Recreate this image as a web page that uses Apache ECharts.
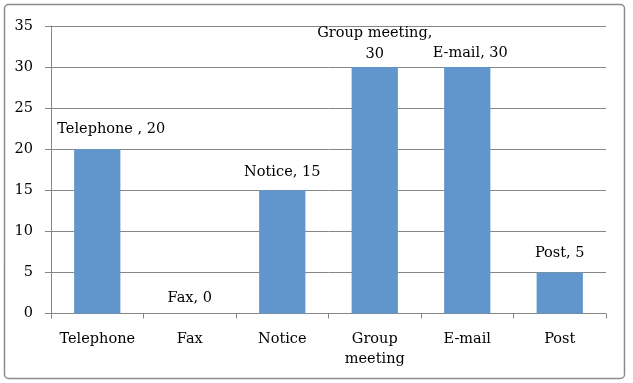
<!DOCTYPE html>
<html><head><meta charset="utf-8">
<script src="https://cdn.jsdelivr.net/npm/echarts@6/dist/echarts.min.js"></script>
<style>html,body{margin:0;padding:0;background:#fff}#c{width:633px;height:383px}</style>
</head><body><div id="c"></div>
<script>
var categories = ['Telephone', 'Fax', 'Notice', 'Group\nmeeting', 'E-mail', 'Post'];
var values = [20, 0, 15, 30, 30, 5];
var labelTexts = ['Telephone , 20', 'Fax, 0', 'Notice, 15', 'Group meeting,\n30', 'E-mail, 30', 'Post, 5'];
var yTicks = [0, 5, 10, 15, 20, 25, 30, 35];

var FONT = 'DejaVu Serif';
var labelOffsets = [[14, 0], [0, 4], [0, 1], [0, 7], [3, 6], [0, 0]];
var chart = echarts.init(document.getElementById('c'), null, {renderer: 'canvas'});
chart.setOption({
  animation: false,
  backgroundColor: '#fff',
  graphic: [{
    type: 'rect', shape: {x: 4.5, y: 4.5, width: 620, height: 374, r: 4},
    style: {fill: 'none', stroke: '#8c8c8c', lineWidth: 1.5}, silent: true
  }],
  grid: {left: 51, right: 27, top: 26, bottom: 69.5, containLabel: false},
  xAxis: {
    type: 'category', data: categories,
    axisLine: {lineStyle: {color: '#868686', width: 1}},
    axisTick: {show: true, interval: 0, length: 5, lineStyle: {color: '#868686'}},
    axisLabel: {interval: 0, fontFamily: FONT, fontSize: 14.5, color: '#000', margin: 16, lineHeight: 20}
  },
  yAxis: {
    type: 'value', min: yTicks[0], max: yTicks[yTicks.length - 1], interval: 5,
    axisLine: {show: true, lineStyle: {color: '#868686'}},
    axisTick: {show: true, length: 6, lineStyle: {color: '#868686'}},
    splitLine: {lineStyle: {color: '#868686', width: 1}},
    axisLabel: {fontFamily: FONT, fontSize: 14.5, color: '#000', margin: 18}
  },
  series: [{
    type: 'bar',
    data: values.map(function (v, i) {
      return {value: v, label: {offset: labelOffsets[i]}};
    }),
    barCategoryGap: '50%',
    itemStyle: {color: '#6096CB'},
    label: {
      show: true, position: 'top', distance: 9,
      fontFamily: FONT, fontSize: 14.5, color: '#000', lineHeight: 21,
      formatter: function (p) { return labelTexts[p.dataIndex]; }
    }
  }]
});
</script></body></html>
